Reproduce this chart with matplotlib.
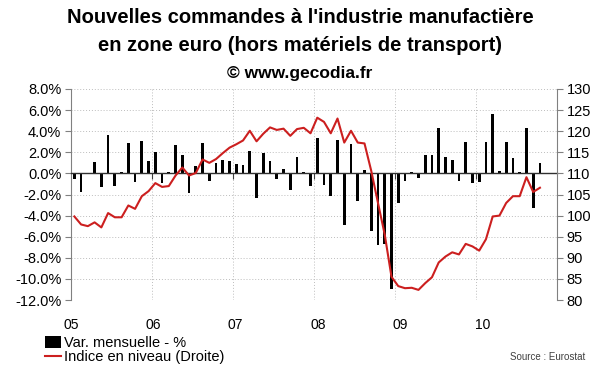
import matplotlib
matplotlib.use("Agg")
import matplotlib.pyplot as plt
import numpy as np
from matplotlib.transforms import blended_transform_factory

plt.rcParams['font.family'] = ['Liberation Sans', 'DejaVu Sans']

# Monthly data, Jan 2005 .. Oct 2010
var_mensuelle = [
    -0.5, -1.8, -0.1, 1.1, -1.25, 3.6, -1.2, 0.1, 2.9, -0.8, 3.1, 1.15,
    2.0, -0.9, 0.1, 2.7, 1.7, -1.9, 0.7, 2.9, -0.7, 1.0, 1.3, 1.2,
    0.9, 0.8, 2.1, -2.3, 1.9, 1.15, -0.55, 0.45, -1.55, 1.6, 0.15, -1.15,
    3.4, -1.1, -2.1, 3.2, -4.9, 2.8, -2.6, 0.3, -5.5, -6.8, -6.7, -11.0,
    -2.8, -0.7, 0.15, -0.45, 1.7, 1.7, 4.3, 1.55, 1.25, -0.7, 3.0, -0.9,
    -0.85, 3.0, 5.6, 0.2, 3.0, 1.5, 0.15, 4.3, -3.3, 1.0,
]
indice = [
    99.8, 97.9, 97.5, 98.4, 97.2, 100.6, 99.6, 99.6, 102.4, 101.6, 104.6, 105.8,
    107.7, 106.8, 107.0, 109.5, 111.4, 109.5, 110.1, 113.3, 112.5, 113.4, 114.8, 116.1,
    116.9, 117.8, 120.1, 117.6, 119.4, 120.9, 120.3, 120.6, 118.9, 120.5, 120.8, 119.5,
    123.2, 122.2, 119.5, 123.0, 117.3, 120.1, 117.3, 117.1, 110.6, 103.0, 95.5, 85.5,
    83.3, 82.8, 82.9, 82.4, 84.0, 85.4, 88.9, 90.3, 91.3, 90.8, 93.3, 92.7,
    91.7, 94.4, 99.8, 100.0, 103.0, 104.6, 104.6, 109.1, 105.6, 106.6,
]
year_labels = ["05", "06", "07", "08", "09", "10"]
n_slots = 72  # Jan 2005 .. Dec 2010
left_ticks = np.arange(-12, 9, 2)
right_ticks = np.arange(80, 131, 5)

fig = plt.figure(figsize=(6.0, 3.72), dpi=100)
ax = fig.add_axes([0.1183, 0.1935, 0.8097, 0.5673])
x = np.arange(len(var_mensuelle))

grid_col = '#bdbdbd'
spine_col = '#808080'

bars = ax.bar(x, var_mensuelle, width=0.4, color='black', zorder=3,
              label='Var. mensuelle - %')
ax.set_xlim(-0.5, n_slots - 0.5)
ax.set_ylim(-12, 8)
ax.set_yticks(left_ticks)
ax.set_yticklabels([f"{v:.1f}%" for v in left_ticks], fontsize=10.5)
ax.yaxis.grid(True, linestyle=(0, (1, 2)), color=grid_col, linewidth=0.7)

boundaries = [12 * i - 0.5 for i in range(1, 6)]
ax.set_xticks(boundaries)
ax.set_xticklabels([])
ax.xaxis.grid(True, linestyle=(0, (1, 2)), color=grid_col, linewidth=0.7)
ax.tick_params(axis='x', length=4, color='#404040', direction='out')
ax.tick_params(axis='y', length=4, color=spine_col, direction='out', pad=3)
ax.set_axisbelow(True)

ax.spines['bottom'].set_position(('data', 0))
ax.spines['bottom'].set_color('#303030')
ax.spines['bottom'].set_linewidth(1.0)
ax.spines['bottom'].set_zorder(4)
ax.spines['top'].set_visible(False)
ax.spines['right'].set_visible(False)
ax.spines['left'].set_color(spine_col)

# Year labels under the plot
trans = blended_transform_factory(ax.transData, ax.transAxes)
for i, lab in enumerate(year_labels):
    ax.text(12 * i - 0.5 + 0.2 * i, -0.12, lab, transform=trans,
            ha='center', va='center', fontsize=10)

ax2 = ax.twinx()
line, = ax2.plot(x, indice, color='#cc1f1f', linewidth=1.5,
                 label='Indice en niveau (Droite)', zorder=5)
ax2.set_ylim(80, 130)
ax2.set_yticks(right_ticks)
ax2.set_yticklabels([str(v) for v in right_ticks], fontsize=10.5)
ax2.tick_params(axis='y', length=4, color=spine_col, direction='out', pad=3)
ax2.spines['right'].set_color(spine_col)
ax2.spines['top'].set_visible(False)
ax2.spines['left'].set_visible(False)
ax2.spines['bottom'].set_visible(False)

# Titles
fig.text(0.5, 0.952, "Nouvelles commandes à l'industrie manufactière",
         ha='center', va='center', fontsize=14.5, fontweight='bold')
fig.text(0.5, 0.877, "en zone euro (hors matériels de transport)",
         ha='center', va='center', fontsize=14.5, fontweight='bold')
fig.text(0.5, 0.803, "© www.gecodia.fr",
         ha='center', va='center', fontsize=12.5, fontweight='bold')

fig.legend(handles=[bars, line], loc='upper left', bbox_to_anchor=(0.075, 0.098),
           frameon=False, fontsize=10.5, handlelength=1.1, handleheight=0.9,
           handletextpad=0.2, labelspacing=0.05, borderpad=0, borderaxespad=0)

fig.text(0.975, 0.04, "Source : Eurostat", ha='right', va='center',
         fontsize=7, color='#404040')

fig.savefig("out.png", dpi=100)
